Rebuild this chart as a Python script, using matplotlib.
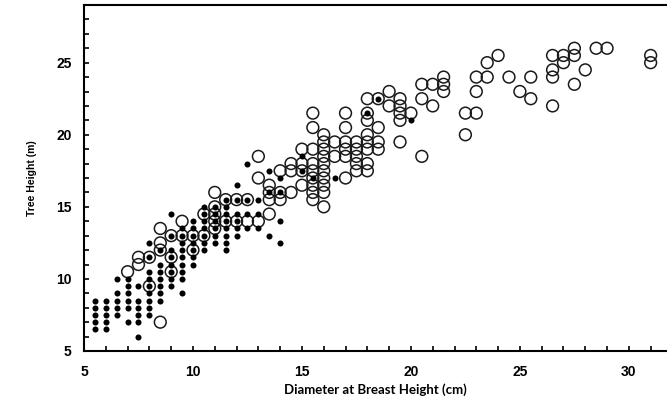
import numpy as np
import matplotlib
matplotlib.use("Agg")
import matplotlib.pyplot as plt

# Open circles: DBH (cm) and height (m), one line per DBH class
open_dbh = ([7] + [7.5] * 2 + [8] * 2 + [8.5] * 4 + [9] * 3 + [9.5] * 2 + [10] * 2
            + [10.5] * 2 + [11] * 5 + [11.5] * 2 + [12] * 2 + [12.5] * 2 + [13] * 3
            + [13.5] * 4 + [14] * 3 + [14.5] * 3 + [15] * 4 + [15.5] * 9 + [16] * 10
            + [16.5] * 2 + [17] * 6 + [17.5] * 5 + [18] * 8 + [18.5] * 4 + [19] * 2
            + [19.5] * 5 + [20] + [20.5] * 3 + [21] * 2 + [21.5] * 3 + [22.5] * 2
            + [23] * 3 + [23.5] * 2 + [24] + [24.5] + [25] + [25.5] * 2 + [26.5] * 4
            + [27] * 2 + [27.5] * 3 + [28] + [28.5] + [29] + [31] * 2)
open_height = [10.5,
               11, 11.5,
               9.5, 11.5,
               7, 12, 12.5, 13.5,
               10.5, 11.5, 13,
               13, 14,
               12, 13,
               13, 14.5,
               13.5, 14, 14.5, 15, 16,
               14, 15.5,
               14, 15.5,
               14, 15.5,
               14, 17, 18.5,
               14.5, 15.5, 16, 16.5,
               15.5, 16, 17.5,
               16, 17.5, 18,
               16.5, 17.5, 18, 19,
               15.5, 16, 16.5, 17, 17.5, 18, 19, 20.5, 21.5,
               15, 16, 16.5, 17, 17.5, 18, 18.5, 19, 19.5, 20,
               18.5, 19.5,
               17, 18.5, 19, 19.5, 20.5, 21.5,
               17.5, 18, 18.5, 19, 19.5,
               17.5, 18, 19, 19.5, 20, 21, 21.5, 22.5,
               19, 19.5, 20.5, 22.5,
               22, 23,
               19.5, 21, 21.5, 22, 22.5,
               21.5,
               18.5, 22.5, 23.5,
               22, 23.5,
               23, 23.5, 24,
               20, 21.5,
               21.5, 23, 24,
               24, 25,
               25.5,
               24,
               23,
               22.5, 24,
               22, 24, 24.5, 25.5,
               25, 25.5,
               23.5, 25.5, 26,
               24.5,
               26,
               26,
               25, 25.5]

# Filled dots
dot_dbh = ([5.5] * 5 + [6] * 5 + [6.5] * 5 + [7] * 6 + [7.5] * 6 + [8] * 9 + [8.5] * 7
           + [9] * 8 + [9.5] * 9 + [10] * 7 + [10.5] * 7 + [11] * 6 + [11.5] * 8
           + [12] * 6 + [12.5] * 4 + [13] * 3 + [13.5] * 3 + [14] * 4 + [15] * 2
           + [15.5] + [16.5] + [18] + [18.5] + [20])
dot_height = [6.5, 7, 7.5, 8, 8.5,
              6.5, 7, 7.5, 8, 8.5,
              7.5, 8, 8.5, 9, 10,
              7, 8, 8.5, 9, 9.5, 10,
              6, 7, 7.5, 8, 8.5, 9.5,
              7.5, 8, 8.5, 9, 9.5, 10, 10.5, 11.5, 12.5,
              8.5, 9, 9.5, 10, 10.5, 11, 12,
              9.5, 10, 10.5, 11, 11.5, 12, 13, 14.5,
              9, 10, 10.5, 11, 11.5, 12, 12.5, 13, 13.5,
              11, 11.5, 12, 12.5, 13, 13.5, 14,
              12, 12.5, 13, 13.5, 14, 14.5, 15,
              12.5, 13, 13.5, 14, 14.5, 15,
              12, 12.5, 13, 13.5, 14, 14.5, 15, 15.5,
              13, 13.5, 14, 14.5, 15.5, 16.5,
              13.5, 14.5, 15.5, 18,
              13.5, 14.5, 15.5,
              13, 16, 17.5,
              12.5, 14, 16, 17,
              17.5, 18.5,
              17,
              17,
              21.5,
              22.5,
              21]

fig = plt.figure(figsize=(6.67, 4.03), dpi=100)
ax = fig.add_axes([84 / 667, 52 / 403, 583 / 667, 346 / 403])

ax.scatter(open_dbh, open_height, s=72, facecolors="none", edgecolors="#1a1a1a",
           linewidths=1.1, zorder=2)
ax.scatter(dot_dbh, dot_height, s=19, color="black", linewidths=0, zorder=3)

ax.set_xlim(5, 31.75)
ax.set_ylim(5, 29)
ax.set_xticks([5, 10, 15, 20, 25, 30])
ax.set_yticks([5, 10, 15, 20, 25])
ax.set_xticks(np.arange(6, 32, 1), minor=True)
ax.set_yticks(np.arange(6, 29, 1), minor=True)
ax.tick_params(which="both", direction="in", length=3.5, width=1.2, color="black")
ax.tick_params(which="major", labelsize=10)
ax.tick_params(axis="x", which="major", pad=10)
ax.tick_params(axis="y", which="major", pad=9)
for lab in ax.get_xticklabels() + ax.get_yticklabels():
    lab.set_fontfamily("Liberation Sans")
    lab.set_fontweight("bold")

ax.spines["right"].set_visible(False)
for side in ["left", "bottom", "top"]:
    ax.spines[side].set_linewidth(1.5)

ax.set_xlabel("Diameter at Breast Height (cm)", family="Lato", fontweight="bold",
              fontsize=9.5, labelpad=3)
ax.set_ylabel("Tree Height (m)", family="Liberation Sans", fontweight="bold",
              fontsize=7.5, labelpad=14)

fig.savefig("out.png", dpi=100)
